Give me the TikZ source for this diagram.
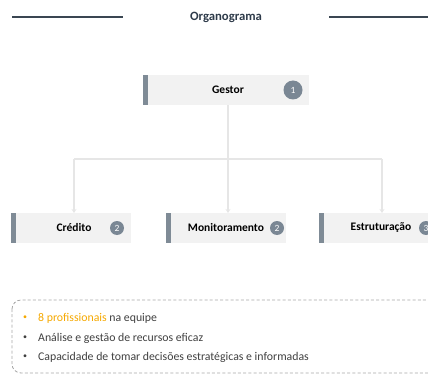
\documentclass[tikz,border=0pt]{standalone}
\usepackage{fontspec}
\setmainfont{Carlito}
\usetikzlibrary{arrows.meta}
\definecolor{titlec}{HTML}{2E3B4A}
\definecolor{rulec}{HTML}{3A4652}
\definecolor{boxfill}{HTML}{F2F2F2}
\definecolor{barc}{HTML}{7F8B96}
\definecolor{circc}{HTML}{7A8794}
\definecolor{linkc}{HTML}{E6E6E6}
\definecolor{orangec}{HTML}{F5A800}
\definecolor{textc}{HTML}{3F3F3F}
\definecolor{dashc}{HTML}{A6A6A6}
\tikzset{
  orgbox/.style={fill=boxfill, draw=none, minimum height=30pt, inner sep=0pt, anchor=north west},
  orgbar/.style={fill=barc, draw=none},
  badge/.style={circle, fill=circc, text=white, inner sep=0pt, font=\fontsize{9.5}{9.5}\selectfont},
  orglabel/.style={font=\bfseries\fontsize{11.5}{12}\selectfont, text=black},
  link/.style={draw=linkc, line width=1.4pt},
  linkarrow/.style={link, -{Stealth[length=4pt,width=5pt]}},
  bullettext/.style={anchor=west, font=\fontsize{11.8}{13}\selectfont, text=textc, inner sep=0pt},
  bulletdot/.style={anchor=center, font=\fontsize{8}{9}\selectfont, text=textc, inner sep=0pt}
}
\begin{document}
\begin{tikzpicture}[x=1pt,y=-1pt]
\useasboundingbox (0,0) rectangle (428,374);
% title
\node[font=\bfseries\fontsize{12.7}{14}\selectfont, text=titlec] (title) at (226,17) {Organograma};
\coordinate (tl1) at (12,17);
\coordinate (tl2) at (123,17);
\coordinate (tr1) at (329,17);
\coordinate (tr2) at (430,17);
\draw[rulec, line width=1.2pt] (tl1) -- (tl2);
\draw[rulec, line width=1.2pt] (tr1) -- (tr2);
% gestor
\node[orgbox, minimum width=166pt] (gestor) at (143,75) {};
\fill[orgbar] (gestor.north west) rectangle ++(5,30);
\node[orglabel] (gestorlbl) at (228,90) {Gestor};
\node[badge, minimum size=19pt] (b1) at (293,90) {1};
% bottom boxes
\node[orgbox, minimum width=120pt] (credito) at (11,213) {};
\fill[orgbar] (credito.north west) rectangle ++(5,30);
\node[orglabel] (creditolbl) at (74,228) {Crédito};
\node[badge, minimum size=14pt] (b2) at (117,228) {2};
\node[orgbox, minimum width=120pt] (monit) at (166,213) {};
\fill[orgbar] (monit.north west) rectangle ++(5,30);
\node[orglabel] (monitlbl) at (226,228) {Monitoramento};
\node[badge, minimum size=14pt] (b3) at (277,228) {2};
\node[orgbox, minimum width=125pt] (estr) at (319,213) {};
\fill[orgbar] (estr.north west) rectangle ++(5,30);
\node[orglabel] (estrlbl) at (381,228) {Estruturação};
\node[badge, minimum size=14pt] (b4) at (426,228) {3};
% connectors
\coordinate (jc) at (228,159);
\coordinate (jl) at (74,159);
\coordinate (jr) at (382,159);
\draw[link] (jc |- gestor.south) -- (jc);
\draw[link] (jl) -- (jr);
\draw[linkarrow] (jl) -- (jl |- credito.north);
\draw[linkarrow] (jc) -- (jc |- monit.north);
\draw[linkarrow] (jr) -- (jr |- estr.north);
% info box
\draw[dashc, line width=0.8pt, dash pattern=on 3pt off 2.2pt, rounded corners=9pt] (12,300) rectangle (445,373);
\node[bulletdot, text=orangec] (bu1) at (25,318) {\textbullet};
\node[bullettext] (t1) at (38,318) {\textcolor{orangec}{8 profissionais} na equipe};
\node[bulletdot] (bu2) at (25,338) {\textbullet};
\node[bullettext] (t2) at (38,338) {Análise e gestão de recursos eficaz};
\node[bulletdot] (bu3) at (25,357) {\textbullet};
\node[bullettext] (t3) at (38,357) {Capacidade de tomar decisões estratégicas e informadas};
\end{tikzpicture}
\end{document}
